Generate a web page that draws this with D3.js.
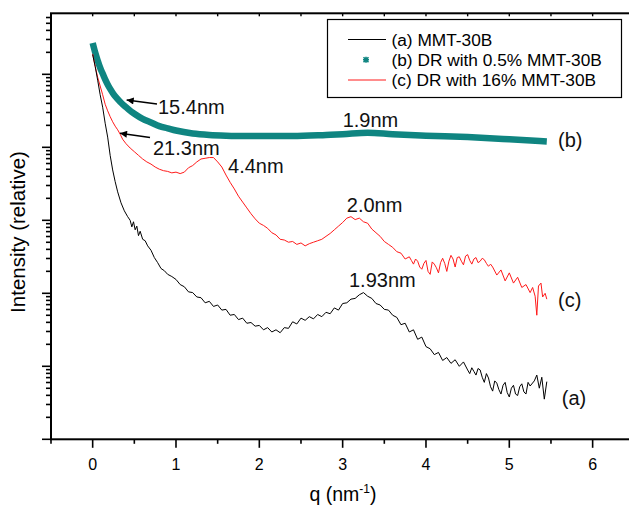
<!DOCTYPE html>
<html>
<head>
<meta charset="utf-8">
<script src="https://cdn.jsdelivr.net/npm/d3@7"></script>
<style>
  html, body { margin: 0; padding: 0; background: #fff; }
  svg { display: block; font-family: "Liberation Sans", Arial, Helvetica, sans-serif; }
</style>
</head>
<body>
<svg id="chart" width="629" height="506"></svg>
<script>
/* SAXS curves of MMT-30B and DR composites, log intensity vs q. */

// [q (nm^-1), log10 of relative intensity]
const seriesA = [[0.00,5.27],[0.03,5.11],[0.06,4.92],[0.09,4.72],[0.12,4.55],[0.15,4.33],[0.18,4.14],[0.21,3.89],[0.24,3.69],[0.27,3.53],[0.30,3.39],[0.34,3.24],[0.38,3.13],[0.42,3.05],[0.45,3.00],[0.47,2.91],[0.49,2.98],[0.51,2.87],[0.53,2.92],[0.55,2.79],[0.57,2.85],[0.60,2.74],[0.63,2.72],[0.66,2.65],[0.70,2.59],[0.74,2.49],[0.78,2.42],[0.82,2.34],[0.86,2.31],[0.90,2.26],[0.95,2.23],
  [1.00,2.19],[1.05,2.12],[1.10,2.09],[1.15,2.02],[1.20,2.01],[1.25,1.95],[1.30,1.94],[1.35,1.87],[1.40,1.89],[1.45,1.82],[1.50,1.84],[1.55,1.77],[1.60,1.78],[1.65,1.70],[1.70,1.71],[1.75,1.64],[1.80,1.66],[1.85,1.59],[1.90,1.60],[1.95,1.55],[2.00,1.56],[2.05,1.50],[2.10,1.53],[2.15,1.47],[2.20,1.50],[2.25,1.46],[2.30,1.53],[2.35,1.52],[2.40,1.61],[2.45,1.58],[2.50,1.66],[2.55,1.63],[2.60,1.68],[2.65,1.65],[2.70,1.71],[2.75,1.68],[2.80,1.74],[2.85,1.72],[2.90,1.80],[2.95,1.77],
  [3.00,1.86],[3.05,1.87],[3.10,1.92],[3.15,1.93],[3.20,1.98],[3.25,2.01],[3.30,1.96],[3.35,1.93],[3.40,1.86],[3.45,1.84],[3.50,1.78],[3.55,1.77],[3.60,1.70],[3.65,1.67],[3.70,1.57],[3.75,1.59],[3.80,1.47],[3.85,1.50],[3.90,1.37],[3.95,1.40],[4.00,1.27],[4.05,1.24],[4.10,1.16],[4.15,1.19],[4.20,1.08],[4.25,1.12],[4.30,1.04],[4.35,1.09],[4.40,1.00],[4.45,1.06],
  [4.50,0.95],[4.525,0.90],[4.55,0.98],[4.575,0.93],[4.60,0.88],[4.625,0.97],[4.65,0.95],[4.675,0.85],[4.70,0.78],[4.725,0.90],[4.75,0.84],[4.775,0.72],[4.80,0.66],[4.825,0.80],[4.85,0.77],[4.875,0.68],[4.90,0.62],[4.925,0.74],[4.95,0.78],[4.975,0.64],
  [5.00,0.58],[5.025,0.70],[5.05,0.74],[5.075,0.62],[5.10,0.60],[5.125,0.72],[5.15,0.76],[5.175,0.65],[5.20,0.62],[5.225,0.78],[5.25,0.73],[5.30,0.80],[5.33,0.88],[5.36,0.70],[5.39,0.85],[5.42,0.55],[5.45,0.79]];

const seriesB = [[0.00,5.43],[0.03,5.30],[0.06,5.19],[0.09,5.09],[0.12,5.01],[0.15,4.93],[0.18,4.86],[0.21,4.80],[0.25,4.73],[0.30,4.66],[0.35,4.60],[0.40,4.55],[0.45,4.50],[0.50,4.46],[0.60,4.39],[0.70,4.34],[0.80,4.29],[0.90,4.26],[1.00,4.23],[1.20,4.19],[1.40,4.17],[1.60,4.16],[1.80,4.155],[2.00,4.155],[2.40,4.155],[2.80,4.17],[3.00,4.18],[3.30,4.20],[3.60,4.18],[4.00,4.16],[4.50,4.14],[5.00,4.11],[5.45,4.08]];

const seriesC = [[0.00,5.28],[0.03,5.11],[0.06,4.96],[0.09,4.84],[0.12,4.72],[0.15,4.59],[0.18,4.50],[0.21,4.42],[0.24,4.35],[0.27,4.29],[0.30,4.24],[0.33,4.18],[0.36,4.11],[0.40,4.05],[0.45,3.99],[0.50,3.94],[0.55,3.89],[0.60,3.84],[0.65,3.80],[0.70,3.77],[0.75,3.73],[0.80,3.70],[0.85,3.68],[0.90,3.67],[0.95,3.65],[1.00,3.66],[1.05,3.64],[1.10,3.66],[1.15,3.72],[1.20,3.75],[1.25,3.80],[1.30,3.84],[1.35,3.85],[1.40,3.86],[1.45,3.86],[1.50,3.80],[1.55,3.73],[1.60,3.62],[1.65,3.52],[1.70,3.43],[1.75,3.33],[1.80,3.25],[1.85,3.17],[1.90,3.09],[1.95,3.02],
  [2.00,2.96],[2.05,2.93],[2.10,2.89],[2.15,2.83],[2.20,2.80],[2.25,2.74],[2.30,2.73],[2.35,2.70],[2.40,2.71],[2.45,2.67],[2.50,2.69],[2.55,2.65],[2.60,2.68],[2.65,2.70],[2.70,2.72],[2.75,2.74],[2.80,2.78],[2.85,2.82],[2.90,2.87],[2.95,2.92],
  [3.00,2.97],[3.05,3.03],[3.10,3.05],[3.15,3.01],[3.20,3.03],[3.25,2.98],[3.30,2.96],[3.35,2.88],[3.40,2.83],[3.45,2.78],[3.50,2.71],[3.55,2.67],[3.60,2.63],[3.65,2.57],[3.70,2.55],[3.75,2.47],
  [3.80,2.50],[3.825,2.45],[3.85,2.40],[3.875,2.47],[3.90,2.44],[3.925,2.36],[3.95,2.33],[3.975,2.41],[4.00,2.45],[4.025,2.30],[4.05,2.26],[4.075,2.43],[4.10,2.40],[4.125,2.35],[4.15,2.28],[4.175,2.42],[4.20,2.48],[4.225,2.41],[4.25,2.30],[4.275,2.44],[4.30,2.52],[4.325,2.47],[4.35,2.36],[4.375,2.49],[4.40,2.50],[4.425,2.44],[4.45,2.39],[4.475,2.51],[4.50,2.53],[4.525,2.45],[4.55,2.40],[4.575,2.47],[4.60,2.49],[4.625,2.42],[4.65,2.44],[4.675,2.48],[4.70,2.46],[4.725,2.41],[4.75,2.37],[4.775,2.40],[4.80,2.36],[4.85,2.25],[4.90,2.32],[4.95,2.17],
  [5.00,2.28],[5.05,2.14],[5.10,2.22],[5.15,2.08],[5.20,2.12],[5.25,2.01],[5.28,2.08],[5.31,1.96],[5.33,1.70],[5.35,2.10],[5.38,2.14],[5.40,1.95],[5.43,2.00],[5.45,1.92]];

const legendLabels = ["(a) MMT-30B", "(b) DR with 0.5% MMT-30B", "(c) DR with 16% MMT-30B"];
const xTickValues = [0, 1, 2, 3, 4, 5, 6];
const xMinorValues = [-0.5, 0.5, 1.5, 2.5, 3.5, 4.5, 5.5, 6.5];
const yDecades = [0, 1, 2, 3, 4, 5];

// peak / spacing notes: [text, q, log10 I]
const notes = [["15.4nm", 0.784, 4.552], ["21.3nm", 0.724, 3.99], ["4.4nm", 1.625, 3.744],
  ["1.9nm", 3.0, 4.374], ["2.0nm", 3.05, 3.21], ["1.93nm", 3.076, 2.184],
  ["(b)", 5.585, 4.10], ["(c)", 5.585, 1.908], ["(a)", 5.63, 0.566]];
// arrows: [q0, logI0, q1, logI1], head at the second point
const arrows = [[0.772, 4.593, 0.408, 4.648], [0.688, 4.134, 0.328, 4.192]];

const C_A = "#000", C_B = "#0f8581", C_C = "#ff1a1a";

const svg = d3.select("#chart");
const L = 51, T = 13.3, B = 439.3, R = 634.3;
const x = d3.scaleLinear().domain([-0.5, 6.5]).range([L, R]);
const y = d3.scaleLog().domain([1, Math.pow(10, 5.836)]).range([B, T]);
const I = v => Math.pow(10, v);

// curves
svg.append("clipPath").attr("id", "plot").append("rect")
  .attr("x", L).attr("y", T).attr("width", R - L).attr("height", B - T);
const line = d3.line().x(d => x(d[0])).y(d => y(I(d[1])));
const plot = svg.append("g").attr("clip-path", "url(#plot)");
plot.append("path").datum(seriesB).attr("d", line.curve(d3.curveMonotoneX))
  .attr("fill", "none").attr("stroke", C_B).attr("stroke-width", 6.5).attr("stroke-linejoin", "round");
line.curve(d3.curveLinear);
plot.append("path").datum(seriesC).attr("d", line)
  .attr("fill", "none").attr("stroke", C_C).attr("stroke-width", 1);
plot.append("path").datum(seriesA).attr("d", line)
  .attr("fill", "none").attr("stroke", C_A).attr("stroke-width", 1);

// axes
const ax = svg.append("g").attr("stroke", "#000").attr("fill", "none");
ax.append("rect").attr("x", L).attr("y", T).attr("width", R - L).attr("height", B - T).attr("stroke-width", 2);
xTickValues.forEach(q => ax.append("line").attr("x1", x(q)).attr("x2", x(q)).attr("y1", B).attr("y2", B + 8.5).attr("stroke-width", 1.6));
xMinorValues.forEach(q => ax.append("line").attr("x1", x(q)).attr("x2", x(q)).attr("y1", B).attr("y2", B + 4.5).attr("stroke-width", 1.6));
xTickValues.concat(xMinorValues).forEach(q => ax.append("line").attr("x1", x(q)).attr("x2", x(q)).attr("y1", T).attr("y2", T + 3).attr("stroke-width", 1.4));
yDecades.forEach(k => {
  ax.append("line").attr("x1", L - 9).attr("x2", L).attr("y1", y(I(k))).attr("y2", y(I(k))).attr("stroke-width", 1.6);
  for (let m = 2; m <= 9; m++) {
    const v = m * I(k);
    if (v > y.domain()[1]) break;
    ax.append("line").attr("x1", L - 5).attr("x2", L).attr("y1", y(v)).attr("y2", y(v)).attr("stroke-width", 1.6);
  }
});

svg.append("g").selectAll("text").data(xTickValues).join("text")
  .attr("x", d => x(d)).attr("y", 464).attr("text-anchor", "middle").attr("dominant-baseline", "central")
  .attr("font-size", 16).text(d => d);

const xt = svg.append("text").attr("x", 343).attr("y", 501).attr("text-anchor", "middle").attr("font-size", 19.5);
xt.append("tspan").text("q (nm");
xt.append("tspan").attr("font-size", 12).attr("dy", -8).text("-1");
xt.append("tspan").attr("dy", 8).text(")");

svg.append("text").attr("transform", "translate(25,232) rotate(-90)").attr("text-anchor", "middle")
  .attr("font-size", 20.5).text("Intensity (relative)");

// annotations
svg.append("defs").append("marker").attr("id", "head").attr("viewBox", "0 0 10 10")
  .attr("refX", 10).attr("refY", 5).attr("markerWidth", 11).attr("markerHeight", 7)
  .attr("markerUnits", "userSpaceOnUse").attr("orient", "auto")
  .append("path").attr("d", "M0,0L10,5L0,10Z").attr("fill", "#000");
arrows.forEach(a => svg.append("line")
  .attr("x1", x(a[0])).attr("y1", y(I(a[1]))).attr("x2", x(a[2])).attr("y2", y(I(a[3])))
  .attr("stroke", "#000").attr("stroke-width", 1.5).attr("marker-end", "url(#head)"));
svg.append("g").selectAll("text").data(notes).join("text")
  .attr("x", d => x(d[1])).attr("y", d => y(I(d[2]))).attr("dominant-baseline", "central")
  .attr("font-size", 20).attr("fill", "#111").text(d => d[0]);

// legend
const lg = svg.append("g");
lg.append("rect").attr("x", 327.5).attr("y", 19.5).attr("width", 294).attr("height", 78)
  .attr("fill", "#fff").attr("stroke", "#000").attr("stroke-width", 1.2);
const rowY = [39.5, 59.7, 80];
lg.append("line").attr("x1", 348).attr("x2", 386).attr("y1", rowY[0]).attr("y2", rowY[0]).attr("stroke", C_A).attr("stroke-width", 1);
lg.append("line").attr("x1", 348).attr("x2", 386).attr("y1", rowY[2]).attr("y2", rowY[2]).attr("stroke", C_C).attr("stroke-width", 1);
lg.append("path").attr("transform", `translate(366,${rowY[1]})`)
  .attr("d", "M-2.5,-2.5L2.5,2.5M-2.5,2.5L2.5,-2.5M0,-3L0,3M-3,0L3,0")
  .attr("stroke", C_B).attr("stroke-width", 1.6);
lg.selectAll("text").data(legendLabels).join("text")
  .attr("x", 391.5).attr("y", (d, i) => rowY[i]).attr("dominant-baseline", "central")
  .attr("font-size", 17.3).text(d => d);
</script>
</body>
</html>
